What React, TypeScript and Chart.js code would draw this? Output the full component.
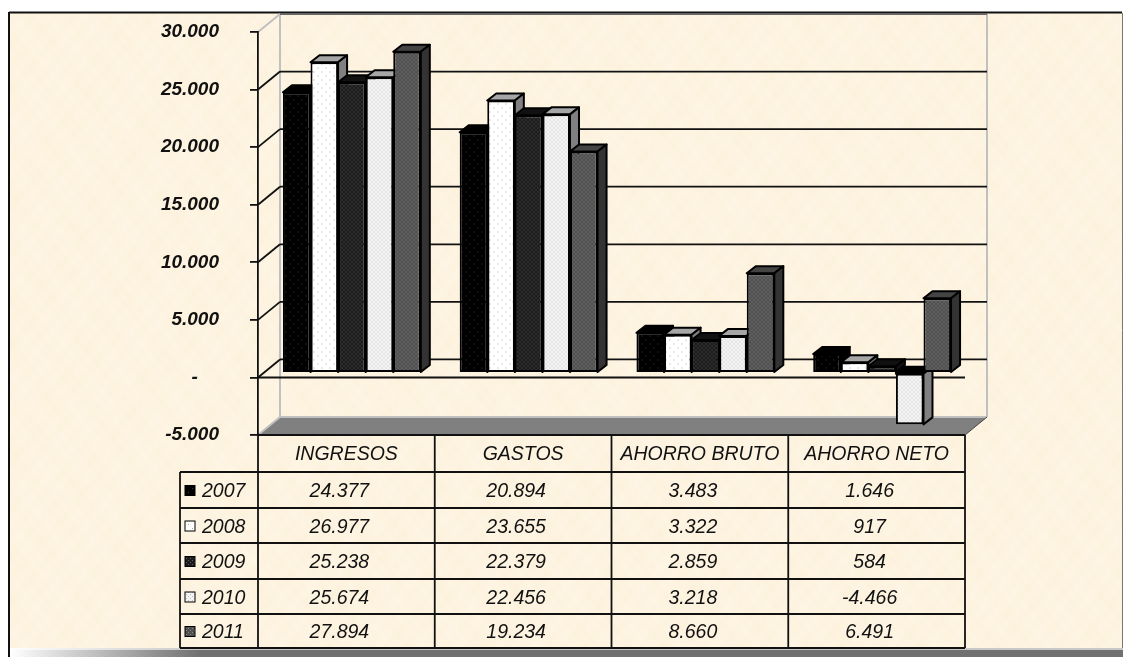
import React, { useEffect, useRef } from "react";
import { Chart, registerables } from "chart.js";

Chart.register(...registerables);

const categories = ["INGRESOS", "GASTOS", "AHORRO BRUTO", "AHORRO NETO"];
const years = ["2007", "2008", "2009", "2010", "2011"];
const values2007 = [24377, 20894, 3483, 1646];
const values2008 = [26977, 23655, 3322, 917];
const values2009 = [25238, 22379, 2859, 584];
const values2010 = [25674, 22456, 3218, -4466];
const values2011 = [27894, 19234, 8660, 6491];
const series = [values2007, values2008, values2009, values2010, values2011];

const PLOT = { left: 258, right: 965, top: 32, bottom: 435 };
const WALL = { dx: 22, dy: -18 };
const BAR_SHIFT = { dx: 5.5, dy: -4.5 };
const BAR_DEPTH = { dx: 9, dy: -7 };
const ROW_LINES = [472, 508, 543, 579, 614, 648];
const TABLE_LEFT = 180;
const VALUE_SHIFT = -7;

const STYLES = [
  { base: "#000000", dot: "#3a3a3a", step: 4, side: "#000000", top: "#000000" },
  { base: "#ffffff", dot: "#a8a8a8", step: 4, side: "#808080", top: "#a6a6a6" },
  { base: "#1c1c1c", dot: "#5c5c5c", step: 2, side: "#111111", top: "#111111" },
  { base: "#f4f4f4", dot: "#bdbdbd", step: 2, side: "#808080", top: "#a6a6a6" },
  { base: "#505050", dot: "#8c8c8c", step: 2, side: "#333333", top: "#444444" },
];

function makePattern(s: { base: string; dot: string; step: number }) {
  const size = s.step * 2;
  const c = document.createElement("canvas");
  c.width = size;
  c.height = size;
  const g = c.getContext("2d")!;
  g.fillStyle = s.base;
  g.fillRect(0, 0, size, size);
  g.fillStyle = s.dot;
  g.fillRect(0, 0, 1, 1);
  g.fillRect(s.step, s.step, 1, 1);
  return g.createPattern(c, "repeat")!;
}

function makeTexture() {
  const size = 256;
  const c = document.createElement("canvas");
  c.width = size;
  c.height = size;
  const g = c.getContext("2d")!;
  const img = g.createImageData(size, size);
  const w = (2 * Math.PI) / size;
  for (let y = 0; y < size; y++) {
    for (let x = 0; x < size; x++) {
      const n =
        Math.sin(w * (3 * x + 2 * y)) * 0.2 +
        Math.sin(w * (7 * x - 5 * y) + 1.3) * 0.3 +
        Math.sin(w * (13 * x + 11 * y) + 2.1) * 0.3 +
        Math.sin(w * (23 * x - 19 * y) + 0.7) * 0.25;
      const i = (y * size + x) * 4;
      img.data[i] = 253 + n;
      img.data[i + 1] = 243 + n * 2;
      img.data[i + 2] = 224 + n * 5;
      img.data[i + 3] = 255;
    }
  }
  g.putImageData(img, 0, 0);
  return g.createPattern(c, "repeat")!;
}

function poly(ctx: CanvasRenderingContext2D, pts: number[][]) {
  ctx.beginPath();
  pts.forEach((p, i) => (i ? ctx.lineTo(p[0], p[1]) : ctx.moveTo(p[0], p[1])));
  ctx.closePath();
}

function line(ctx: CanvasRenderingContext2D, x1: number, y1: number, x2: number, y2: number, color: string, width: number) {
  ctx.strokeStyle = color;
  ctx.lineWidth = width;
  ctx.beginPath();
  ctx.moveTo(x1, y1);
  ctx.lineTo(x2, y2);
  ctx.stroke();
}

function fmt(v: number) {
  const sign = v < 0 ? "-" : "";
  const a = Math.abs(v);
  return sign + (a >= 1000 ? Math.floor(a / 1000) + "." + String(a % 1000).padStart(3, "0") : String(a));
}

export default function App() {
  const ref = useRef<HTMLCanvasElement>(null);
  useEffect(() => {
    document.body.style.margin = "0";
    const texture = makeTexture();
    const patterns = STYLES.map(makePattern);

    const drawFaces = (ctx: CanvasRenderingContext2D, meta: any, st: (typeof STYLES)[number]) => {
      ctx.strokeStyle = "#000000";
      ctx.lineWidth = 2;
      ctx.lineJoin = "round";
      meta.data.forEach((el: any) => {
        const { x, y, base, width } = el.getProps(["x", "y", "base", "width"], true);
        const top = Math.min(y, base);
        const bot = Math.max(y, base);
        const r = x + width / 2;
        const l = x - width / 2;
        const dx = BAR_DEPTH.dx;
        const dy = BAR_DEPTH.dy;
        poly(ctx, [[l, top], [l + dx, top + dy], [r + dx, top + dy], [r, top]]);
        ctx.fillStyle = y > base ? "#000000" : st.top;
        ctx.fill();
        ctx.stroke();
        poly(ctx, [[r, top], [r + dx, top + dy], [r + dx, bot + dy], [r, bot]]);
        ctx.fillStyle = st.side;
        ctx.fill();
        ctx.stroke();
      });
    };

    const scene = {
      id: "scene",
      beforeDraw(chart: any) {
        const ctx: CanvasRenderingContext2D = chart.ctx;
        const y = chart.scales.y;
        const { left: L, right: R, top: T, bottom: B } = PLOT;
        const bx = WALL.dx;
        const by = WALL.dy;
        ctx.save();
        ctx.fillStyle = "#ffffff";
        ctx.fillRect(0, 0, 1123, 657);
        ctx.fillStyle = texture;
        ctx.fillRect(9, 13, 1113, 635);
        // page frame
        line(ctx, 9, 12.5, 1122, 12.5, "#111111", 2);
        line(ctx, 9, 12, 9, 657, "#111111", 2);
        line(ctx, 1122.5, 13, 1122.5, 648, "#777777", 1);
        const g = ctx.createLinearGradient(10, 0, 200, 0);
        g.addColorStop(0, "#ffffff");
        g.addColorStop(1, "#707070");
        ctx.fillStyle = g;
        ctx.fillRect(10, 650, 1113, 7);
        const g2 = ctx.createLinearGradient(10, 0, 200, 0);
        g2.addColorStop(0, "#ffffff");
        g2.addColorStop(1, "#c8c8c8");
        ctx.fillStyle = g2;
        ctx.fillRect(10, 648, 1113, 2);
        // floor
        ctx.fillStyle = "#808080";
        poly(ctx, [[L, B], [R, B], [R + bx, B + by], [L + bx, B + by]]);
        ctx.fill();
        // back wall edges
        const gray = "#c0c0c0";
        line(ctx, L + bx, T + by, L + bx, B + by, gray, 2);
        line(ctx, R + bx, T + by, R + bx, B + by, gray, 2);
        line(ctx, L + bx, B + by, R + bx, B + by, gray, 2);
        line(ctx, L, B, L + bx, B + by, gray, 2);
        line(ctx, R, B, R + bx, B + by, "#444444", 1);
        line(ctx, L, T, L + bx, T + by, gray, 2);
        line(ctx, L + bx, T + by, R + bx, T + by, "#666666", 2);
        // gridlines on the back wall, from the y scale
        y.ticks.forEach((t: any) => {
          if (t.value === y.max || t.value === y.min) return;
          const py = y.getPixelForValue(t.value);
          line(ctx, L, py, L + bx, py + by, "#111111", 1.8);
          line(ctx, L + bx, py + by, R + bx, py + by, "#111111", 1.8);
        });
        // front zero line
        const zero = y.getPixelForValue(0);
        line(ctx, L, zero, R, zero, "#111111", 2);
        line(ctx, L, B, R, B, "#111111", 2);
        ctx.restore();
      },
      beforeDatasetsDraw(chart: any) {
        // left-hand series first, so each bar covers its neighbour's side face
        const ctx: CanvasRenderingContext2D = chart.ctx;
        chart.getSortedVisibleDatasetMetas().forEach((meta: any) => {
          ctx.save();
          ctx.translate(BAR_SHIFT.dx, BAR_SHIFT.dy);
          drawFaces(ctx, meta, STYLES[meta.index]);
          meta.controller.draw();
          ctx.restore();
        });
        return false;
      },
      afterDraw(chart: any) {
        const ctx: CanvasRenderingContext2D = chart.ctx;
        const x = chart.scales.x;
        const { left: L, right: R, bottom: B } = PLOT;
        const bottom = ROW_LINES[ROW_LINES.length - 1];
        ctx.save();
        const c = "#111111";
        line(ctx, L, B, L, bottom, c, 1.8);
        line(ctx, TABLE_LEFT, ROW_LINES[0], TABLE_LEFT, bottom, c, 1.8);
        categories.forEach((_, i) => {
          const px = x.getPixelForValue(i) + (R - L) / categories.length / 2;
          line(ctx, px, B, px, bottom, c, 1.8);
        });
        ROW_LINES.forEach((ry) => line(ctx, TABLE_LEFT, ry, R, ry, c, 1.8));
        ctx.textBaseline = "middle";
        years.forEach((yr, r) => {
          const cy = (ROW_LINES[r] + ROW_LINES[r + 1]) / 2 + 2;
          ctx.fillStyle = patterns[r];
          ctx.fillRect(185, cy - 6.5, 10, 10);
          ctx.strokeStyle = "#000000";
          ctx.lineWidth = 1;
          ctx.strokeRect(185, cy - 6.5, 10, 10);
          ctx.fillStyle = "#111111";
          ctx.font = "italic 19.5px 'Liberation Sans'";
          ctx.textAlign = "left";
          ctx.fillText(yr, 202, cy);
          ctx.textAlign = "center";
          series[r].forEach((v, i) => ctx.fillText(fmt(v), x.getPixelForValue(i) + VALUE_SHIFT, cy));
        });
        ctx.restore();
      },
    };

    const chart = new Chart(ref.current!, {
      type: "bar",
      data: {
        labels: categories,
        datasets: series.map((data, i) => ({
          label: years[i],
          data,
          backgroundColor: patterns[i],
          borderColor: "#000000",
          borderWidth: 2,
          borderSkipped: false,
          categoryPercentage: 0.78,
          barPercentage: 1,
          clip: false,
        })),
      },
      options: {
        responsive: false,
        devicePixelRatio: 1,
        animation: false,
        layout: {
          padding: { left: 0, top: PLOT.top, right: 1123 - PLOT.right, bottom: 0 },
        },
        plugins: { legend: { display: false }, tooltip: { enabled: false } },
        scales: {
          x: {
            grid: { display: false },
            border: { display: false },
            ticks: {
              padding: 0,
              color: "#111111",
              maxRotation: 0,
              autoSkip: false,
              font: { family: "'Liberation Sans'", style: "italic", size: 19.5 },
            },
            afterFit: (s: any) => {
              s.height = 657 - PLOT.bottom;
            },
          },
          y: {
            min: -5000,
            max: 30000,
            grid: { drawOnChartArea: false, tickLength: 8, tickColor: "#111111", lineWidth: 1.8 },
            border: { color: "#111111", width: 1.8 },
            ticks: {
              stepSize: 5000,
              padding: 31,
              color: "#111111",
              font: { family: "'Liberation Sans'", style: "italic", weight: "bold", size: 19 },
              callback: (v: any) => (v === 0 ? "-    " : fmt(Number(v))),
            },
            afterFit: (s: any) => {
              s.width = PLOT.left;
              s.paddingTop = 0;
              s.paddingBottom = 0;
            },
          },
        },
      },
      plugins: [scene],
    } as any);
    return () => chart.destroy();
  }, []);
  return (
    <div style={{ position: "fixed", inset: 0 }}>
      <canvas ref={ref} width={1123} height={657} style={{ display: "block" }} />
    </div>
  );
}
